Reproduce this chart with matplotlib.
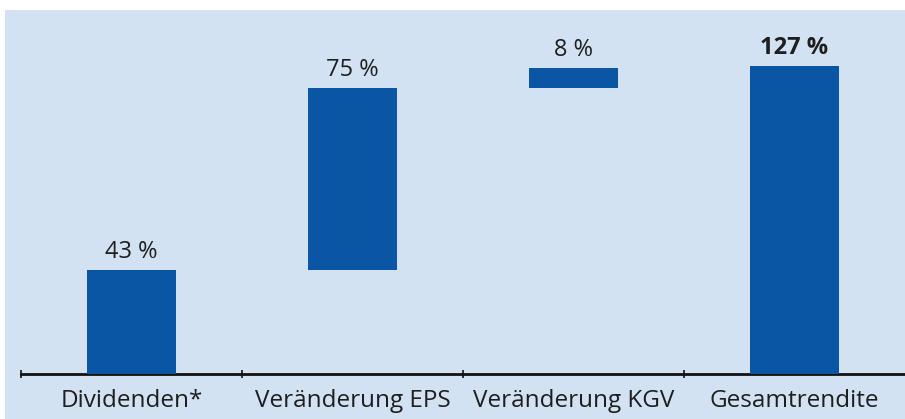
import matplotlib
matplotlib.use("Agg")
import matplotlib.pyplot as plt
from matplotlib.patches import Rectangle
from matplotlib import font_manager

categories = ["Dividenden*", "Veränderung EPS", "Veränderung KGV", "Gesamtrendite"]
changes = [43, 75, 8]
total = 127
value_labels = ["43 %", "75 %", "8 %", "127 %"]

bg = "#d3e2f3"
bar_color = "#0a56a4"

names = {f.name for f in font_manager.fontManager.ttflist}
family = "Liberation Sans Narrow" if "Liberation Sans Narrow" in names else "Open Sans"

fig = plt.figure(figsize=(9.05, 4.19), dpi=100)
fig.patch.set_facecolor("white")
fig.patches.append(Rectangle((5 / 905, 0), 1, 1 - 10 / 419, transform=fig.transFigure,
                             facecolor=bg, edgecolor="none", zorder=-10))

ax = fig.add_axes([21 / 905, 45 / 419, 884 / 905, 364 / 419])
ax.set_facecolor("none")

# waterfall: each change starts where the previous ended, total starts at zero
bottoms = []
running = 0
for v in changes:
    bottoms.append(running)
    running += v
heights = changes + [total]
bottoms = bottoms + [0]
x = list(range(len(categories)))

ax.bar(x, heights, bottom=bottoms, width=0.4, color=bar_color, zorder=3)

for i, (b, h, lab) in enumerate(zip(bottoms, heights, value_labels)):
    ax.text(i, b + h + 2.5, lab, ha="center", va="bottom", fontsize=17,
            family=family, color="#1e1e1e",
            fontweight="bold" if i == len(categories) - 1 else "normal")

ax.set_xlim(-0.5, 3.5)
ax.set_ylim(0, 150)
for s in ["top", "right", "left"]:
    ax.spines[s].set_visible(False)
ax.spines["bottom"].set_linewidth(2)
ax.spines["bottom"].set_color("#111111")
ax.set_yticks([])
ax.set_xticks(x)
ax.set_xticklabels(categories, fontsize=17.5, family=family, color="#1e1e1e")
ax.tick_params(axis="x", which="major", length=0, pad=11)
ax.set_xticks([-0.5, 0.5, 1.5, 2.5], minor=True)
ax.tick_params(axis="x", which="minor", length=6, width=1.2, direction="inout", color="#111111")

fig.savefig("out.png", dpi=100, facecolor=fig.get_facecolor())
